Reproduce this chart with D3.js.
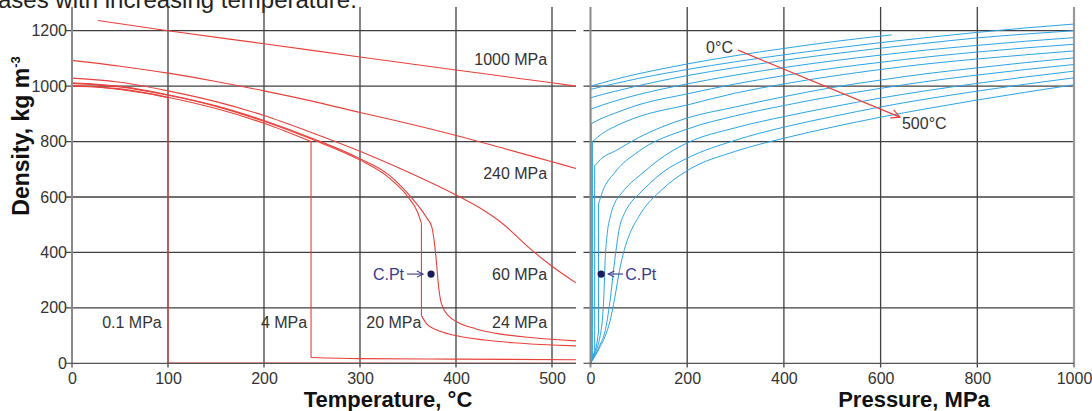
<!DOCTYPE html>
<html><head><meta charset="utf-8">
<script src="https://cdn.jsdelivr.net/npm/d3@7"></script>
<style>
body{margin:0;background:#fff;}
text{font-family:"Liberation Sans",Arial,sans-serif;}
</style></head>
<body><svg id="c" width="1092" height="411"></svg>
<script>
// ---------- tick values ----------
const tempTicks = [0,100,200,300,400,500];
const pressTicks = [0,200,400,600,800,1000];
const densTicks = [0,200,400,600,800,1000,1200];

// ---------- left panel: isobars, [temperature °C, density kg/m3] ----------
const isobar01Liquid = [[0,1000],[25,997],[50,988],[75,975],[100,958]];
const isobar01Vapor  = [[100,0.6],[525,0.4]];
const isobar4Liquid  = [[0,1002],[50,990],[100,960],[150,919],[200,866],[249,800]];
const isobar4Vapor   = [[249,21],[300,17],[400,15],[525,13]];
const isobar20Liquid = [[0,1010],[50,997],[100,967],[150,927],[200,873],[250,808],[300,733],[330,670],[350,600],[360,545],[364,505]];
const isobar20Vapor  = [[364,172],[369.5,142],[380,120],[397,102],[430,84],[460,74],[500,66],[525,63]];
const isobar24 = [[0,1012],[50,999],[100,969],[150,929],[200,876],[250,812],[300,738],[330,680],[350,612],[355,592],[365,548],[370,522],[374.7,493],[378,420],[380,350],[381.6,285],[383.5,235],[386.8,198],[392,172],[400.7,150],[420,125],[442,108],[480,92],[525,81]];
const isobar60 = [[0,1029],[50,1014],[100,983],[150,944],[200,894],[250,832],[300,765],[350,690],[400,607],[425,560],[450,500],[475,420],[500,350],[525,290]];
const isobar240 = [[0,1093],[50,1072],[100,1047],[150,1017],[200,983],[250,946],[300,905],[350,865],[400,822],[450,775],[500,727],[525,703]];
const isobar1000 = [[27,1237],[100,1200],[200,1153],[300,1105],[400,1058],[500,1012],[525,1000]];

const isobarLabels = ["1000 MPa","240 MPa","60 MPa","24 MPa","20 MPa","4 MPa","0.1 MPa"];
const isobarLabelPos = [[495,1098],[495,688],[495,322],[495,150],[364,150],[245,150],[93.5,150]]; // [T, density] of label right end

// ---------- right panel: isotherms 0..500 °C, [pressure MPa, density kg/m3] ----------
const iso0   = [[0,1000],[25,1012],[50,1024],[100,1045],[150,1063],[200,1080],[300,1110],[400,1136],[500,1160],[623,1185]];
const iso50  = [[0,988],[25,999],[50,1009],[100,1028],[200,1060],[300,1088],[400,1113],[500,1136],[600,1157],[700,1176],[800,1194],[900,1210],[1000,1224]];
const iso100Vapor = [[0,0],[0.1,0.6]];
const iso100 = [[0.1,958],[25,970],[50,981],[100,1002],[200,1038],[300,1067],[400,1093],[500,1116],[600,1137],[700,1156],[800,1174],[900,1188],[1000,1200]];
const iso150Vapor = [[0,0],[0.48,2.5]];
const iso150 = [[0.48,917],[25,932],[50,946],[100,970],[200,1008],[300,1040],[400,1067],[500,1091],[600,1112],[700,1131],[800,1147],[900,1162],[1000,1175]];
const iso200Vapor = [[0,0],[1.55,8]];
const iso200 = [[1.55,865],[25,885],[50,902],[100,933],[200,972],[300,1008],[400,1038],[500,1064],[600,1086],[700,1106],[800,1123],[900,1138],[1000,1151]];
const iso250Vapor = [[0,0],[3.97,20]];
const iso250 = [[3.97,800],[25,830],[50,854],[100,890],[200,932],[300,975],[400,1008],[500,1036],[600,1060],[700,1081],[800,1098],[900,1113],[1000,1127]];
const iso300Vapor = [[0,0],[4,17],[8.58,46]];
const iso300 = [[8.58,712],[25,742],[50,765],[100,815],[200,885],[300,925],[400,962],[500,995],[600,1022],[700,1046],[800,1066],[900,1085],[1000,1102]];
const iso350Vapor = [[0,0],[5,20],[10,45],[14,80],[16.5,113]];
const iso350 = [[16.5,575],[25,620],[50,688],[100,765],[200,845],[300,893],[400,930],[500,963],[600,992],[700,1018],[800,1040],[900,1060],[1000,1078]];
const iso400 = [[0,0],[5,17],[10,38],[15,63],[20,100],[25,167],[28,260],[30,358],[35,474],[40,523],[50,578],[60,604],[80,645],[100,675],[150,745],[200,795],[300,850],[400,890],[500,925],[600,957],[700,985],[800,1010],[900,1033],[1000,1054]];
const iso450 = [[0,0],[10,31],[20,68],[30,115],[40,220],[50,370],[60,490],[70,540],[80,572],[100,610],[150,690],[200,740],[300,805],[400,852],[500,890],[600,925],[700,955],[800,982],[900,1007],[1000,1030]];
const iso500 = [[0,0],[10,28],[20,60],[30,97],[40,150],[50,235],[60,335],[70,410],[80,462],[100,530],[150,630],[200,695],[300,765],[400,812],[500,852],[600,888],[700,920],[800,950],[900,978],[1000,1005]];

// critical point
const critPoint = {T:374, P:22.06, rho:322};
// temperature-direction arrow on right panel [P, density]
const arrowFrom = [305,1130], arrowTo = [640,888];

// ---------- scales ----------
const svg = d3.select("#c");
svg.append("rect").attr("width",1092).attr("height",411).attr("fill","#fff");
const xT = d3.scaleLinear().domain([0,525]).range([72,576]);
const xP = d3.scaleLinear().domain([0,1000]).range([590.5,1074]);
const yD = d3.scaleLinear().domain([0,1200]).range([363.3,30.7]);
const yTop = 7, yBot = 367.5;

// title fragment (clipped at top, as in the source figure)
svg.append("text").attr("x",-2).attr("y",8).attr("font-size",24).attr("fill","#222")
  .text("ases with increasing temperature.");

// ---------- grid ----------
const grid = svg.append("g");
function hgrid(x0,x1){
  densTicks.filter(d=>d>0).forEach(d=>{
    grid.append("line").attr("x1",x0).attr("x2",x1).attr("y1",yD(d)).attr("y2",yD(d))
      .attr("stroke","#404040").attr("stroke-width",1.3);
  });
}
hgrid(xT.range()[0]-6, xT.range()[1]);
hgrid(xP.range()[0]-7, xP.range()[1]);
tempTicks.filter(t=>t>0).forEach(t=>{
  grid.append("line").attr("x1",xT(t)).attr("x2",xT(t)).attr("y1",yTop).attr("y2",yBot)
    .attr("stroke","#404040").attr("stroke-width",1.3);
});
pressTicks.filter(p=>p>0&&p<1000).forEach(p=>{
  grid.append("line").attr("x1",xP(p)).attr("x2",xP(p)).attr("y1",yTop).attr("y2",yBot)
    .attr("stroke","#404040").attr("stroke-width",1.3);
});
// right border at 1000 MPa
grid.append("line").attr("x1",xP(1000)).attr("x2",xP(1000)).attr("y1",yTop).attr("y2",yBot)
  .attr("stroke","#999").attr("stroke-width",2.2);

// ---------- curves ----------
const lineT = d3.line().x(d=>xT(d[0])).y(d=>yD(d[1])).curve(d3.curveMonotoneX);
const lineTlin = d3.line().x(d=>xT(d[0])).y(d=>yD(d[1]));
const lineP = d3.line().x(d=>xP(d[0])).y(d=>yD(d[1])).curve(d3.curveMonotoneX);
const linePlin = d3.line().x(d=>xP(d[0])).y(d=>yD(d[1]));
const red = "#e8403a", blue = "#2ba4e4";
const cg = svg.append("g").attr("fill","none");

function drawT(pts){ cg.append("path").attr("d",lineT(pts)).attr("stroke",red).attr("stroke-width",1.1); }
function jumpT(a,b){ cg.append("path").attr("d",lineTlin([a[a.length-1],b[0]])).attr("stroke",red).attr("stroke-width",1.1); }
[[isobar01Liquid,isobar01Vapor],[isobar4Liquid,isobar4Vapor],[isobar20Liquid,isobar20Vapor]].forEach(([l,v])=>{
  drawT(l); jumpT(l,v); drawT(v);
});
[isobar24,isobar60,isobar240,isobar1000].forEach(drawT);

function drawP(pts){ cg.append("path").attr("d",lineP(pts)).attr("stroke",blue).attr("stroke-width",1); }
function jumpP(a,b){ cg.append("path").attr("d",linePlin([a[a.length-1],b[0]])).attr("stroke",blue).attr("stroke-width",1); }
[iso0,iso50,iso400,iso450,iso500].forEach(drawP);
[[iso100Vapor,iso100],[iso150Vapor,iso150],[iso200Vapor,iso200],[iso250Vapor,iso250],[iso300Vapor,iso300],[iso350Vapor,iso350]].forEach(([v,l])=>{
  cg.append("path").attr("d",linePlin(v)).attr("stroke",blue).attr("stroke-width",1);
  jumpP(v,l); drawP(l);
});

// ---------- axes lines ----------
const ax = svg.append("g");
ax.append("line").attr("x1",xT(0)).attr("x2",xT(0)).attr("y1",yTop).attr("y2",yBot).attr("stroke","#8a8a8a").attr("stroke-width",2);
ax.append("line").attr("x1",xP(0)).attr("x2",xP(0)).attr("y1",yTop).attr("y2",yBot).attr("stroke","#8a8a8a").attr("stroke-width",2);
ax.append("line").attr("x1",xT(0)).attr("x2",xT.range()[1]).attr("y1",yD(0)).attr("y2",yD(0)).attr("stroke","#555").attr("stroke-width",1.2);
ax.append("line").attr("x1",xP(0)).attr("x2",xP(1000)).attr("y1",yD(0)).attr("y2",yD(0)).attr("stroke","#555").attr("stroke-width",1.2);
ax.append("line").attr("x1",xT(0)-6).attr("x2",xT(0)).attr("y1",yD(0)).attr("y2",yD(0)).attr("stroke","#555").attr("stroke-width",1.2);
ax.append("line").attr("x1",xP(0)-7).attr("x2",xP(0)).attr("y1",yD(0)).attr("y2",yD(0)).attr("stroke","#555").attr("stroke-width",1.2);

// tick labels via d3 axes
const fmt = d3.format("d");
const yAxis = d3.axisLeft(yD).tickValues(densTicks).tickFormat(fmt).tickSize(0).tickPadding(5);
const gy = svg.append("g").attr("transform",`translate(${xT(0)},0)`).call(yAxis);
const xAxisT = d3.axisBottom(xT).tickValues(tempTicks).tickFormat(fmt).tickSize(0).tickPadding(9);
const gxT = svg.append("g").attr("transform",`translate(0,${yD(0)})`).call(xAxisT);
const xAxisP = d3.axisBottom(xP).tickValues(pressTicks).tickFormat(fmt).tickSize(0).tickPadding(9);
const gxP = svg.append("g").attr("transform",`translate(0,${yD(0)})`).call(xAxisP);
[gy,gxT,gxP].forEach(g=>{
  g.select(".domain").remove();
  g.selectAll("text").attr("font-size",16).attr("fill","#333").attr("font-family","Liberation Sans, Arial, sans-serif");
});

// axis titles
svg.append("text").attr("x",388).attr("y",407).attr("text-anchor","middle")
  .attr("font-size",22).attr("font-weight","bold").attr("fill","#111").text("Temperature, °C");
svg.append("text").attr("x",914).attr("y",407).attr("text-anchor","middle")
  .attr("font-size",22).attr("font-weight","bold").attr("fill","#111").text("Pressure, MPa");
const yl = svg.append("text").attr("transform","translate(29,136) rotate(-90)").attr("text-anchor","middle")
  .attr("font-size",23).attr("font-weight","bold").attr("fill","#111");
yl.append("tspan").text("Density, kg m");
yl.append("tspan").attr("font-size",13).attr("dy",-9).text("-3");

// isobar labels
isobarLabels.forEach((s,i)=>{
  svg.append("text").attr("x",xT(isobarLabelPos[i][0])).attr("y",yD(isobarLabelPos[i][1])+6)
    .attr("text-anchor","end").attr("font-size",16).attr("fill","#333").text(s);
});

// critical points
const navy = "#1d1b5c", cpText = "#3b3a8e";
svg.append("defs").html(`
 <marker id="ah" viewBox="0 0 10 10" refX="9" refY="5" markerWidth="7" markerHeight="7" orient="auto">
   <path d="M1,1 L9,5 L1,9" fill="none" stroke="${cpText}" stroke-width="1.3"/></marker>
 <marker id="ahr" viewBox="0 0 10 10" refX="9" refY="5" markerWidth="9" markerHeight="9" orient="auto">
   <path d="M1,1 L9,5 L1,9" fill="none" stroke="${red}" stroke-width="1.1"/></marker>`);
const cL = [xT(critPoint.T), yD(critPoint.rho)];
svg.append("circle").attr("cx",cL[0]).attr("cy",cL[1]).attr("r",3.6).attr("fill",navy);
svg.append("line").attr("x1",cL[0]-24).attr("x2",cL[0]-8).attr("y1",cL[1]).attr("y2",cL[1])
  .attr("stroke",cpText).attr("stroke-width",1.1).attr("marker-end","url(#ah)");
svg.append("text").attr("x",cL[0]-27).attr("y",cL[1]+6).attr("text-anchor","end")
  .attr("font-size",16).attr("fill",cpText).text("C.Pt");
const cR = [xP(critPoint.P), yD(critPoint.rho)];
svg.append("circle").attr("cx",cR[0]).attr("cy",cR[1]).attr("r",3.6).attr("fill",navy);
svg.append("line").attr("x1",cR[0]+22).attr("x2",cR[0]+7).attr("y1",cR[1]).attr("y2",cR[1])
  .attr("stroke",cpText).attr("stroke-width",1.1).attr("marker-end","url(#ah)");
svg.append("text").attr("x",cR[0]+24).attr("y",cR[1]+6).attr("text-anchor","start")
  .attr("font-size",16).attr("fill",cpText).text("C.Pt");

// temperature arrow
svg.append("line").attr("x1",xP(arrowFrom[0])).attr("y1",yD(arrowFrom[1]))
  .attr("x2",xP(arrowTo[0])).attr("y2",yD(arrowTo[1]))
  .attr("stroke",red).attr("stroke-width",1.2).attr("marker-end","url(#ahr)");
svg.append("text").attr("x",xP(arrowFrom[0])-5).attr("y",yD(arrowFrom[1])+3)
  .attr("text-anchor","end").attr("font-size",16).attr("fill","#333").text("0°C");
svg.append("text").attr("x",xP(arrowTo[0])+2).attr("y",yD(arrowTo[1])+12)
  .attr("text-anchor","start").attr("font-size",16).attr("fill","#333").text("500°C");
</script></body></html>
